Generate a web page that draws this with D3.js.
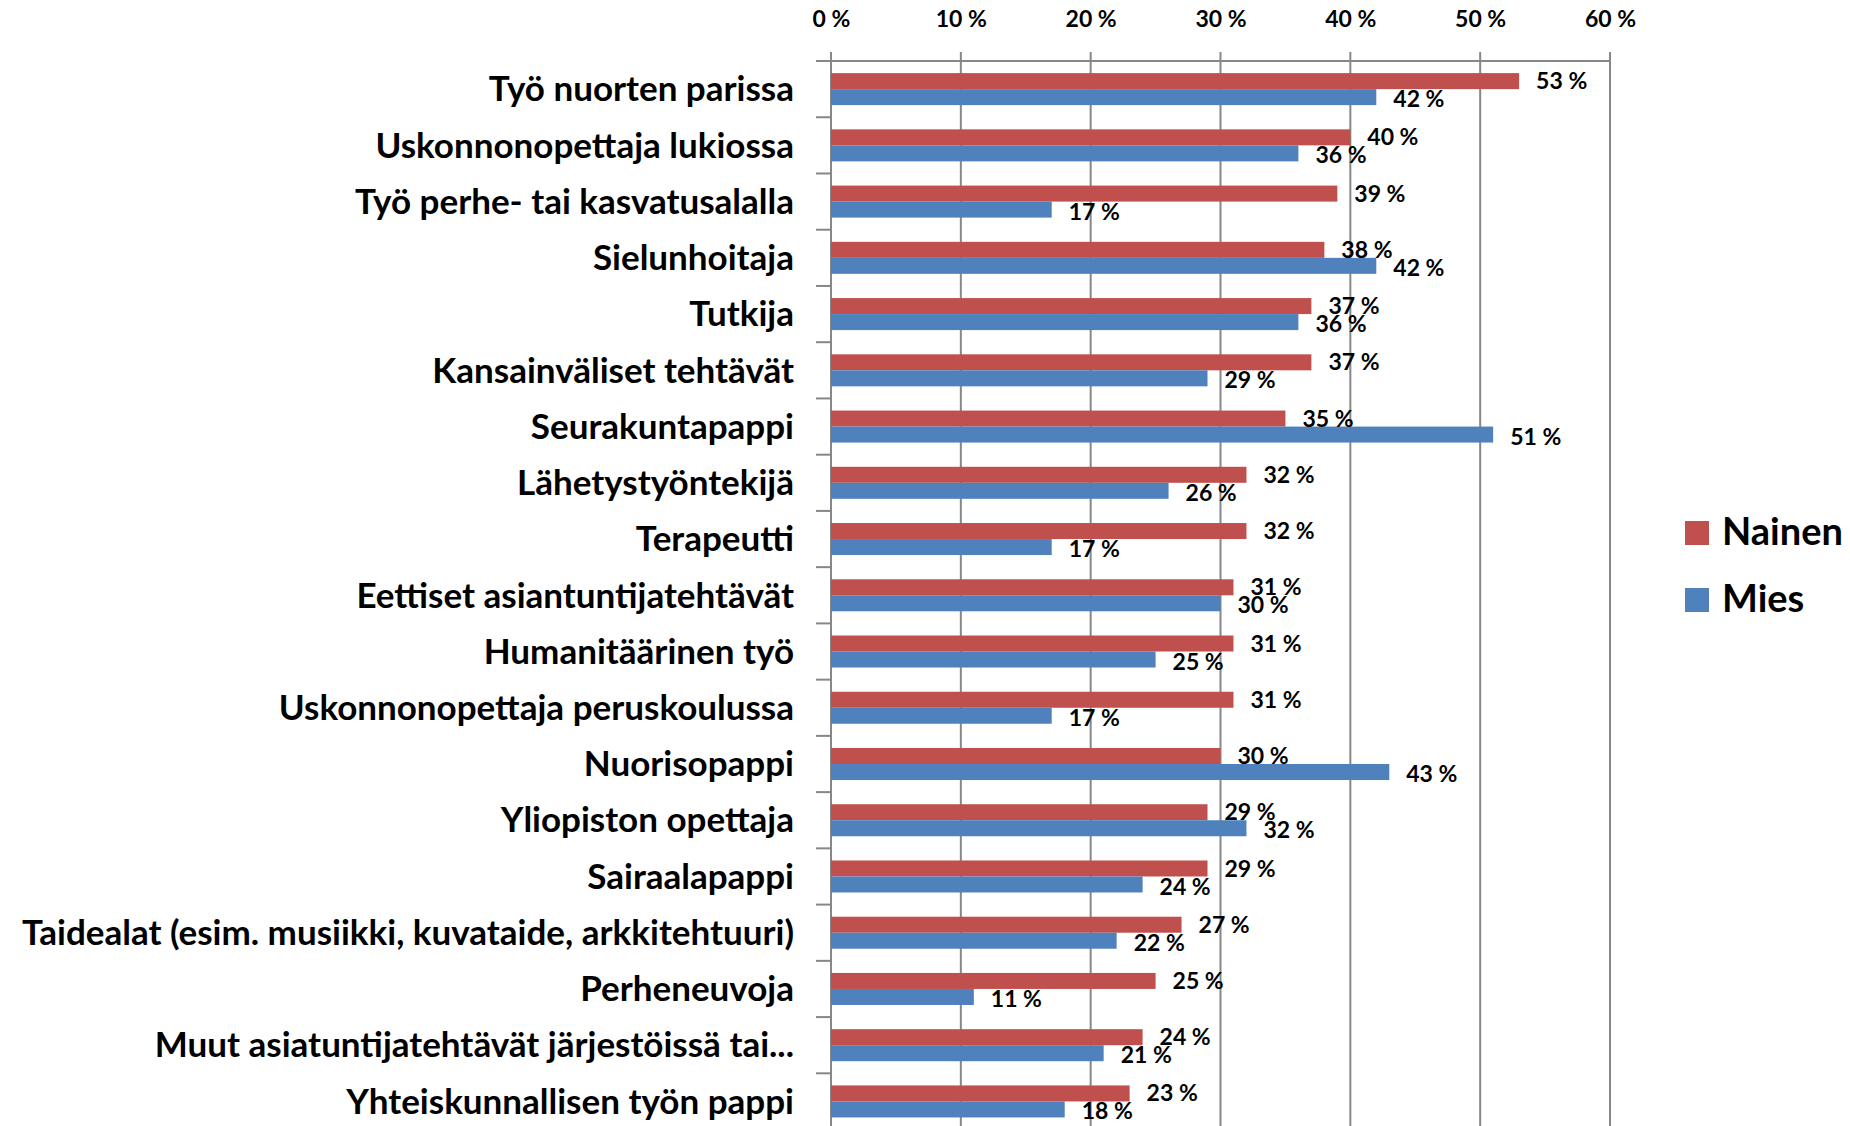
<!DOCTYPE html>
<html>
<head>
<meta charset="utf-8">
<script src="https://cdn.jsdelivr.net/npm/d3@7"></script>
<style>
  html, body { margin: 0; padding: 0; background: #fff; }
  svg text { font-family: Lato, "Open Sans", sans-serif; font-weight: 700; fill: #000; }
</style>
</head>
<body>
<div id="chart"></div>
<script>
const categories = [
  'Työ nuorten parissa',
  'Uskonnonopettaja lukiossa',
  'Työ perhe- tai kasvatusalalla',
  'Sielunhoitaja',
  'Tutkija',
  'Kansainväliset tehtävät',
  'Seurakuntapappi',
  'Lähetystyöntekijä',
  'Terapeutti',
  'Eettiset asiantuntijatehtävät',
  'Humanitäärinen työ',
  'Uskonnonopettaja peruskoulussa',
  'Nuorisopappi',
  'Yliopiston opettaja',
  'Sairaalapappi',
  'Taidealat (esim. musiikki, kuvataide, arkkitehtuuri)',
  'Perheneuvoja',
  'Muut asiatuntijatehtävät järjestöissä tai...',
  'Yhteiskunnallisen työn pappi'
];
const series = ['Nainen', 'Mies'];
const nainen = [53, 40, 39, 38, 37, 37, 35, 32, 32, 31, 31, 31, 30, 29, 29, 27, 25, 24, 23];
const mies   = [42, 36, 17, 42, 36, 29, 51, 26, 17, 30, 25, 17, 43, 32, 24, 22, 11, 21, 18];
const xTicks = [0, 10, 20, 30, 40, 50, 60];
const colors = { Nainen: '#C0504D', Mies: '#4F81BD' };

const width = 1850, height = 1126;
const plotLeft = 831, plotRight = 1610, plotTop = 61, band = 56.24;

const svg = d3.select('#chart').append('svg')
  .attr('width', width)
  .attr('height', height);

const x = d3.scaleLinear().domain([0, 60]).range([plotLeft, plotRight]);
const y = d3.scaleBand().domain(categories).range([plotTop, plotTop + band * categories.length]);
const ySub = d3.scaleBand().domain(series).range([0, y.bandwidth()]).paddingOuter(0.757);

// gridlines
svg.append('g')
  .selectAll('line')
  .data(xTicks)
  .join('line')
  .attr('x1', d => x(d)).attr('x2', d => x(d))
  .attr('y1', plotTop - 9).attr('y2', height)
  .attr('stroke', '#878787')
  .attr('stroke-width', 2);

// top line
svg.append('line')
  .attr('x1', plotLeft).attr('x2', plotRight)
  .attr('y1', plotTop).attr('y2', plotTop)
  .attr('stroke', '#878787').attr('stroke-width', 2);

// top axis labels
const xAxis = svg.append('g')
  .attr('transform', `translate(0, ${plotTop})`)
  .call(d3.axisTop(x).tickValues(xTicks).tickSize(0).tickFormat(d => `${d} %`));
xAxis.select('.domain').remove();
xAxis.selectAll('text')
  .attr('y', 19 - plotTop)
  .attr('dy', '0.35em')
  .style('font-size', '23px');

// left axis with labels
const yAxis = svg.append('g')
  .attr('transform', `translate(${plotLeft}, 0)`)
  .call(d3.axisLeft(y).tickSize(0).tickPadding(37));
yAxis.select('.domain').remove();
yAxis.selectAll('text')
  .attr('dy', '0.35em')
  .style('font-size', '35px');

svg.append('line')
  .attr('x1', plotLeft).attr('x2', plotLeft)
  .attr('y1', plotTop).attr('y2', height)
  .attr('stroke', '#878787').attr('stroke-width', 2);

svg.append('g')
  .selectAll('line')
  .data(categories)
  .join('line')
  .attr('x1', plotLeft - 15).attr('x2', plotLeft)
  .attr('y1', d => y(d)).attr('y2', d => y(d))
  .attr('stroke', '#878787').attr('stroke-width', 2);

// bars
const rows = categories.map((c, i) => ({ c, Nainen: nainen[i], Mies: mies[i] }));
const groups = svg.append('g')
  .selectAll('g')
  .data(rows)
  .join('g')
  .attr('transform', d => `translate(0, ${y(d.c)})`);

groups.selectAll('rect')
  .data(d => series.map(s => ({ s, v: d[s] })))
  .join('rect')
  .attr('x', x(0))
  .attr('y', d => ySub(d.s))
  .attr('width', d => x(d.v) - x(0))
  .attr('height', ySub.bandwidth())
  .attr('fill', d => colors[d.s]);

groups.selectAll('text')
  .data(d => series.map(s => ({ s, v: d[s] })))
  .join('text')
  .attr('x', d => x(d.v) + 17)
  .attr('y', d => ySub(d.s) + ySub.bandwidth() / 2 + (d.s === 'Mies' ? 2 : 0))
  .attr('dy', '0.35em')
  .style('font-size', '23px')
  .text(d => `${d.v} %`);

// legend
const legend = svg.append('g')
  .selectAll('g')
  .data(series)
  .join('g')
  .attr('transform', (d, i) => `translate(1685, ${521 + i * 67})`);
legend.append('rect')
  .attr('width', 24).attr('height', 24)
  .attr('fill', d => colors[d]);
legend.append('text')
  .attr('x', 37).attr('y', 24)
  .style('font-size', '38px')
  .text(d => d);
</script>
</body>
</html>
